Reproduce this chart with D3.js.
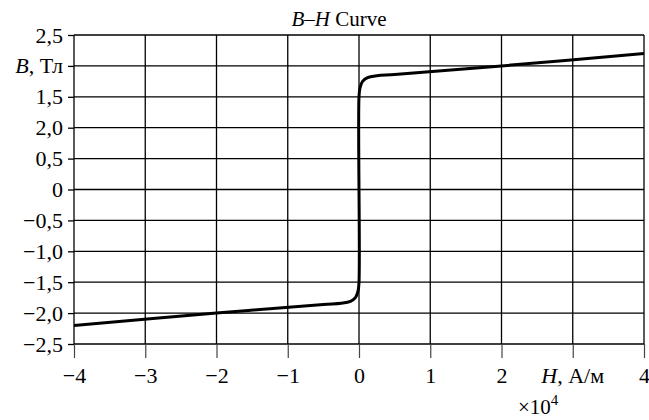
<!DOCTYPE html>
<html>
<head>
<meta charset="utf-8">
<script src="https://cdn.jsdelivr.net/npm/d3@7"></script>
<style>
  body { margin: 0; background: #fff; }
</style>
</head>
<body>
<svg id="chart"></svg>
<script>
// H in units of 1e4 A/m, B in T
var hValues = [-4, -2, -0.5, -0.25, -0.12, -0.05, -0.015, 0, 0, 0.015, 0.05, 0.12, 0.25, 0.5, 2, 4];
var bValues = [-2.2, -2.0, -1.86, -1.84, -1.81, -1.75, -1.65, -1.5, 1.5, 1.65, 1.75, 1.81, 1.84, 1.86, 2.0, 2.2];

var xTicks = [-4, -3, -2, -1, 0, 1, 2, 3, 4];
var xTickLabels = ["\u22124", "\u22123", "\u22122", "\u22121", "0", "1", "2", "", "4"];
var yTicks = [2.5, 2, 1.5, 1, 0.5, 0, -0.5, -1, -1.5, -2, -2.5];
var yTickLabels = ["2,5", "", "1,5", "2,0", "0,5", "0", "\u22120,5", "\u22121,0", "\u22121,5", "\u22122,0", "\u22122,5"];

var serif = "'Liberation Serif', 'Times New Roman', Times, 'DejaVu Serif', serif";

var svgW = 649, svgH = 420;
var margin = {top: 35, right: 5, bottom: 76, left: 74},
    width = svgW - margin.left - margin.right,
    height = svgH - margin.top - margin.bottom;

var svg = d3.select("#chart")
    .attr("width", svgW)
    .attr("height", svgH);

var chart = svg.append("g")
    .attr("transform", "translate(" + margin.left + "," + margin.top + ")");

var x = d3.scaleLinear().domain([-4, 4]).range([0, width]);
var y = d3.scaleLinear().domain([-2.5, 2.5]).range([height, 0]);

// grid
chart.append("g").selectAll("line")
    .data(xTicks)
  .enter().append("line")
    .attr("x1", function(d) { return x(d); })
    .attr("x2", function(d) { return x(d); })
    .attr("y1", 0).attr("y2", height)
    .attr("stroke", "#000").attr("stroke-width", 1.3);

chart.append("g").selectAll("line")
    .data(yTicks)
  .enter().append("line")
    .attr("x1", 0).attr("x2", width)
    .attr("y1", function(d) { return y(d); })
    .attr("y2", function(d) { return y(d); })
    .attr("stroke", "#000").attr("stroke-width", 1.3);

// x axis
var xAxis = d3.axisBottom(x)
    .tickValues(xTicks)
    .tickSize(14)
    .tickPadding(9)
    .tickFormat(function(d, i) { return xTickLabels[i]; });

var gx = chart.append("g")
    .attr("transform", "translate(0," + height + ")")
    .call(xAxis)
    .attr("font-family", serif)
    .attr("font-size", 22);
gx.select(".domain").remove();
gx.selectAll(".tick line").attr("stroke", "#444").attr("stroke-width", 1.2);

// y axis
var yAxis = d3.axisLeft(y)
    .tickValues(yTicks)
    .tickSize(6)
    .tickPadding(5)
    .tickFormat(function(d, i) { return yTickLabels[i]; });

var gy = chart.append("g")
    .call(yAxis)
    .attr("font-family", serif)
    .attr("font-size", 22);
gy.select(".domain").remove();
gy.selectAll(".tick line").attr("stroke", "#000").attr("stroke-width", 1.3);

// axis names standing in for tick labels
var bLabel = chart.append("text")
    .attr("x", -11)
    .attr("y", y(2))
    .attr("dy", "0.32em")
    .attr("text-anchor", "end")
    .attr("font-family", serif)
    .attr("font-size", 22);
bLabel.append("tspan").attr("font-style", "italic").text("B");
bLabel.append("tspan").text(", Тл");

var hLabel = chart.append("text")
    .attr("x", x(3))
    .attr("y", height + 23)
    .attr("dy", "0.71em")
    .attr("text-anchor", "middle")
    .attr("font-family", serif)
    .attr("font-size", 22);
hLabel.append("tspan").attr("font-style", "italic").text("H");
hLabel.append("tspan").text(", А/м");

var expLabel = chart.append("text")
    .attr("x", 518 - margin.left)
    .attr("y", 414 - margin.top)
    .attr("font-family", serif)
    .attr("font-size", 21);
expLabel.append("tspan").text("×10");
expLabel.append("tspan").attr("dy", -9).attr("font-size", 15).text("4");

// title
var title = svg.append("text")
    .attr("x", 339)
    .attr("y", 26)
    .attr("text-anchor", "middle")
    .attr("font-family", serif)
    .attr("font-size", 21);
title.append("tspan").attr("font-style", "italic").text("B–H");
title.append("tspan").text(" Curve");

// curve
var line = d3.line()
    .x(function(d) { return x(d[0]); })
    .y(function(d) { return y(d[1]); })
    .curve(d3.curveCatmullRom.alpha(0.5));

chart.append("path")
    .datum(d3.zip(hValues, bValues))
    .attr("fill", "none")
    .attr("stroke", "#000")
    .attr("stroke-width", 3)
    .attr("d", line);
</script>
</body>
</html>
